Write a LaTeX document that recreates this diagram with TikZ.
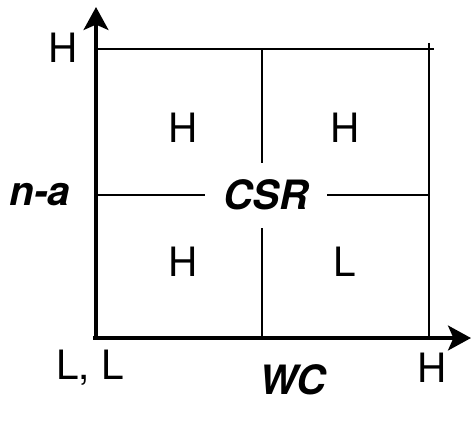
\documentclass[tikz,border=0pt]{standalone}
\usepackage{fontspec}
\setmainfont{TeX Gyre Heros}
\usetikzlibrary{arrows.meta}
\begin{document}
\begin{tikzpicture}[
		axis/.style={line width=2.8pt, -{Stealth[length=13pt,width=14pt,inset=3pt]}},
		gline/.style={line width=1.1pt},
		lab/.style={font=\fontsize{23}{23}\selectfont},
		title/.style={font=\fontsize{23}{23}\selectfont\bfseries\itshape}]
			\useasboundingbox (0,0) rectangle (9.42,8.8);
			% corners of the chart
			\coordinate (O) at (1.92,2.04);
			\coordinate (ytop) at (1.92,8.66);
			\coordinate (xend) at (9.42,2.04);
			\coordinate (tl) at (1.92,7.82);
			\coordinate (tr) at (8.68,7.82);
			\coordinate (rt) at (8.58,7.94);
			\coordinate (rb) at (8.58,2.04);
			\coordinate (mt) at (5.24,7.82);
			\coordinate (mb) at (5.24,2.04);
			\coordinate (ml) at (1.92,4.9);
			\coordinate (mr) at (8.58,4.9);
			% inner lines first, the label covers them
			\draw[gline] (tl) -- (tr);
			\draw[gline] (rt) -- (rb);
			\draw[gline] (mt) -- (mb);
			\draw[gline] (ml) -- (mr);
			\node[title, fill=white, minimum width=2.44cm, minimum height=1.3cm] (csr) at (5.32,4.9) {CSR};
			% axes
			\draw[axis] (O) ++(-0.06,0) -- (xend);
			\draw[axis] (O) -- (ytop);
			% axis labels
			\node[lab] (yhi) at (1.26,7.84) {H};
			\node[title] (na) at (0.8,4.9) {n-a};
			\node[lab] (ll) at (1.8,1.44) {L, L};
			\node[title] (wc) at (5.86,1.2) {WC};
			\node[lab] (xhi) at (8.64,1.44) {H};
			% quadrants
			\node[lab] (q1) at (3.66,6.24) {H};
			\node[lab] (q2) at (6.9,6.24) {H};
			\node[lab] (q3) at (3.66,3.56) {H};
			\node[lab] (q4) at (6.9,3.56) {L};
		\end{tikzpicture}
\end{document}
